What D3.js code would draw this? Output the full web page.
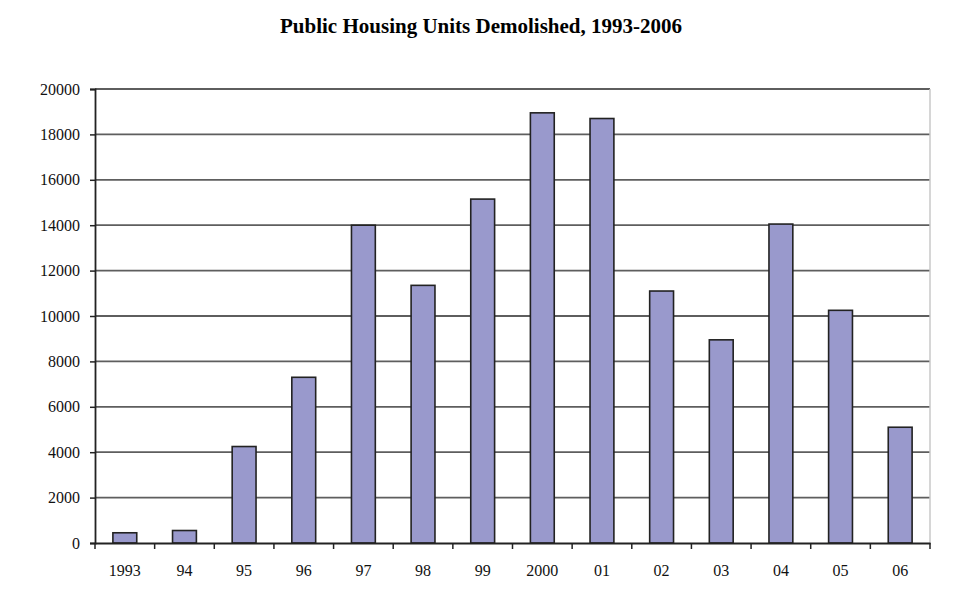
<!DOCTYPE html>
<html>
<head>
<meta charset="utf-8">
<script src="https://cdn.jsdelivr.net/npm/d3@7"></script>
<style>
  body { margin: 0; background: #fff; }
  text { font-family: "Liberation Serif", "Times New Roman", serif; }
</style>
</head>
<body>
<div class="chart"></div>
<script>
var years = ["1993", "94", "95", "96", "97", "98", "99", "2000", "01", "02", "03", "04", "05", "06"];
var unitsDemolished = [450, 550, 4250, 7300, 14000, 11350, 15150, 18950, 18700, 11100, 8950, 14050, 10250, 5100];
var yTicks = [0, 2000, 4000, 6000, 8000, 10000, 12000, 14000, 16000, 18000, 20000];

var svgWidth = 980, svgHeight = 590;
var margin = { top: 89, right: 50, bottom: 47, left: 95 };
var width = svgWidth - margin.left - margin.right;
var height = svgHeight - margin.top - margin.bottom;

var svg = d3.select(".chart")
  .append("svg")
  .attr("width", svgWidth)
  .attr("height", svgHeight);

svg.append("text")
  .attr("x", 481)
  .attr("y", 33)
  .attr("text-anchor", "middle")
  .attr("font-size", 21)
  .attr("font-weight", "bold")
  .text("Public Housing Units Demolished, 1993-2006");

var chart = svg.append("g")
  .attr("transform", "translate(" + margin.left + "," + margin.top + ")");

var x = d3.scaleBand()
  .domain(years)
  .range([0, width])
  .paddingInner(0.6)
  .paddingOuter(0.3);

var y = d3.scaleLinear()
  .domain([0, 20000])
  .range([height, 0]);

// gridlines
chart.selectAll(".grid")
  .data(yTicks.slice(1))
  .enter().append("line")
    .attr("x1", 0)
    .attr("x2", width)
    .attr("y1", function(d) { return y(d); })
    .attr("y2", function(d) { return y(d); })
    .attr("stroke", "#5e5e5e")
    .attr("stroke-width", 1.8);

// right border
chart.append("line")
  .attr("x1", width).attr("x2", width)
  .attr("y1", 0).attr("y2", height)
  .attr("stroke", "#c8c8c8")
  .attr("stroke-width", 1.5);

// bars
chart.selectAll("rect")
  .data(unitsDemolished)
  .enter().append("rect")
    .attr("x", function(d, i) { return x(years[i]); })
    .attr("y", function(d) { return y(d); })
    .attr("width", x.bandwidth())
    .attr("height", function(d) { return height - y(d); })
    .attr("fill", "#9999cc")
    .attr("stroke", "#222")
    .attr("stroke-width", 1.6);

// y axis
var yAxis = chart.append("g")
  .call(d3.axisLeft(y).tickValues(yTicks).tickSize(5).tickPadding(10).tickFormat(d3.format("d")));
yAxis.select(".domain").attr("stroke", "#222").attr("stroke-width", 1.8);
yAxis.selectAll(".tick line").attr("stroke", "#222").attr("stroke-width", 1.5);
yAxis.selectAll(".tick text")
  .attr("font-size", 16)
  .attr("font-family", "Liberation Serif, serif")
  .attr("fill", "#111");

// x axis with boundary ticks
var xAxis = chart.append("g")
  .attr("transform", "translate(0," + height + ")")
  .call(d3.axisBottom(x).tickSize(0).tickPadding(22));
xAxis.select(".domain").attr("stroke", "#222").attr("stroke-width", 1.8);
xAxis.selectAll(".tick text")
  .attr("font-size", 16)
  .attr("font-family", "Liberation Serif, serif")
  .attr("fill", "#111");

var boundaries = years.map(function(d) { return x(d) - (x.step() - x.bandwidth()) / 2; });
boundaries.push(width);
xAxis.selectAll(".btick")
  .data(boundaries)
  .enter().append("line")
    .attr("x1", function(d) { return d; })
    .attr("x2", function(d) { return d; })
    .attr("y1", 0)
    .attr("y2", 6)
    .attr("stroke", "#222")
    .attr("stroke-width", 1.5);
</script>
</body>
</html>
